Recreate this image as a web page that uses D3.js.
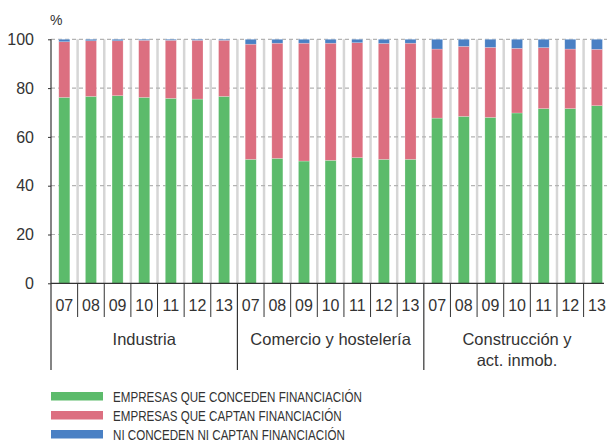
<!DOCTYPE html>
<html>
<head>
<meta charset="utf-8">
<script src="https://cdn.jsdelivr.net/npm/d3@7"></script>
<style>
  html, body { margin: 0; padding: 0; background: #fff; }
  svg { display: block; }
  text { font-family: "Liberation Sans", Arial, Helvetica, sans-serif; fill: #333; }
</style>
</head>
<body>
<svg id="chart" width="607" height="443"></svg>
<script>
// Sectors and years on the category axis
const sectors = ["Industria", "Comercio y hostelería", "Construcción y\nact. inmob."];
const years = ["07", "08", "09", "10", "11", "12", "13"];

// Share of firms (%) per sector and year, in sector order
const concede = [76.2, 76.6, 76.9, 76.2, 75.8, 75.5, 76.6,
                 50.8, 51.2, 50.1, 50.4, 51.5, 50.8, 50.8,
                 67.7, 68.4, 68.0, 69.8, 71.6, 71.6, 72.8];
const capta   = [22.8, 22.8, 22.5, 23.4, 23.8, 24.1, 23.0,
                 47.2, 47.2, 48.3, 48.0, 47.1, 47.5, 47.6,
                 28.3, 28.7, 28.7, 26.5, 25.0, 24.4, 23.1];
const ninguna = [1.0, 0.6, 0.6, 0.4, 0.4, 0.4, 0.4,
                 2.0, 1.6, 1.6, 1.6, 1.4, 1.7, 1.6,
                 4.0, 2.9, 3.3, 3.7, 3.4, 4.0, 4.1];

const seriesNames = ["EMPRESAS QUE CONCEDEN FINANCIACIÓN",
                     "EMPRESAS QUE CAPTAN FINANCIACIÓN",
                     "NI CONCEDEN NI CAPTAN FINANCIACIÓN"];
const yTicks = [0, 20, 40, 60, 80, 100];

const colors = ["#5cbb6b", "#dc6f80", "#4a80c4"];
const keys = ["concede", "capta", "ninguna"];

// Build rows for the stack layout
const rows = [];
sectors.forEach((s, si) => {
  years.forEach((y, yi) => {
    const i = si * years.length + yi;
    rows.push({ id: si + "-" + y, sector: si, year: y,
                concede: concede[i], capta: capta[i], ninguna: ninguna[i] });
  });
});

const svg = d3.select("#chart");
const left = 51, step = 26.63;
const plotRight = 607;

const x = d3.scaleBand()
  .domain(rows.map(d => d.id))
  .range([left, left + step * rows.length])
  .paddingInner(0.585).paddingOuter(0.2925);

const y = d3.scaleLinear().domain([0, 100]).range([283.3, 39.3]);

// Light vertical separators between columns
svg.append("g").selectAll("line")
  .data(d3.range(1, rows.length))
  .join("line")
  .attr("x1", i => left + step * i).attr("x2", i => left + step * i)
  .attr("y1", y(100)).attr("y2", y(0))
  .attr("stroke", "#d6d6d6").attr("stroke-width", 2.5);

// Dashed horizontal gridlines
svg.append("g").selectAll("line")
  .data(yTicks.filter(t => t > 0))
  .join("line")
  .attr("x1", left).attr("x2", plotRight)
  .attr("y1", d => y(d)).attr("y2", d => y(d))
  .attr("stroke", "#b3b3b3").attr("stroke-width", 1.2)
  .attr("stroke-dasharray", "4,3");

// Stacked bars
const stacked = d3.stack().keys(keys)(rows);
svg.append("g").selectAll("g")
  .data(stacked)
  .join("g")
  .attr("fill", (d, i) => colors[i])
  .selectAll("rect")
  .data(d => d)
  .join("rect")
  .attr("x", d => x(d.data.id))
  .attr("width", x.bandwidth())
  .attr("y", d => y(d[1]))
  .attr("height", d => y(d[0]) - y(d[1]))
  .attr("stroke", "rgba(255,255,255,0.35)")
  .attr("stroke-width", 0.6);

// Y axis
const yAxis = svg.append("g").attr("transform", `translate(${left},0)`)
  .call(d3.axisLeft(y).tickValues(yTicks).tickSize(3).tickPadding(14).tickFormat(d3.format("d")));
yAxis.select(".domain").remove();
yAxis.selectAll(".tick line").attr("stroke", "#333");
yAxis.selectAll(".tick text")
  .attr("font-size", 16).attr("fill", "#333")
  .style("font-family", "'Liberation Sans', Arial, sans-serif");

svg.append("line")
  .attr("x1", left).attr("x2", left)
  .attr("y1", y(100)).attr("y2", 370)
  .attr("stroke", "#333").attr("stroke-width", 1.2);

svg.append("text").attr("x", 50).attr("y", 25)
  .attr("font-size", 14).text("%");

// X axis baseline
svg.append("line")
  .attr("x1", left).attr("x2", plotRight - 3)
  .attr("y1", y(0)).attr("y2", y(0))
  .attr("stroke", "#333").attr("stroke-width", 1.3);

// Year separators and labels
svg.append("g").selectAll("line")
  .data(d3.range(1, rows.length).filter(i => i % years.length !== 0))
  .join("line")
  .attr("x1", i => left + step * i).attr("x2", i => left + step * i)
  .attr("y1", y(0)).attr("y2", 317)
  .attr("stroke", "#333").attr("stroke-width", 1);

svg.append("g").selectAll("text")
  .data(rows)
  .join("text")
  .attr("x", d => x(d.id) + x.bandwidth() / 2)
  .attr("y", 311)
  .attr("text-anchor", "middle")
  .attr("font-size", 16)
  .text(d => d.year);

// Sector separators and labels
svg.append("g").selectAll("line")
  .data([1, 2])
  .join("line")
  .attr("x1", i => left + step * years.length * i).attr("x2", i => left + step * years.length * i)
  .attr("y1", y(0)).attr("y2", 370)
  .attr("stroke", "#333").attr("stroke-width", 1.2);

svg.append("g").selectAll("text")
  .data(sectors)
  .join("text")
  .attr("x", (d, i) => left + step * years.length * (i + 0.5))
  .attr("y", 345)
  .attr("text-anchor", "middle")
  .attr("font-size", 16.5)
  .selectAll("tspan")
  .data(d => d.split("\n"))
  .join("tspan")
  .attr("x", function () { return d3.select(this.parentNode).attr("x"); })
  .attr("dy", (d, i) => i === 0 ? 0 : 21)
  .text(d => d);

// Legend, set in a condensed face
const legend = svg.append("g").attr("class", "legend");
const lg = legend.selectAll("g")
  .data(seriesNames)
  .join("g")
  .attr("transform", (d, i) => `translate(51,${392 + i * 19})`);
lg.append("rect")
  .attr("width", 52).attr("height", 8.5)
  .attr("fill", (d, i) => colors[i]);
lg.append("text")
  .attr("x", 62).attr("y", 9.8)
  .attr("font-size", 14.5)
  .attr("fill", "#333")
  .text(d => d)
  .each(function () {
    const w = this.getComputedTextLength();
    d3.select(this).attr("textLength", w * 0.8).attr("lengthAdjust", "spacingAndGlyphs");
  });
</script>
</body>
</html>
